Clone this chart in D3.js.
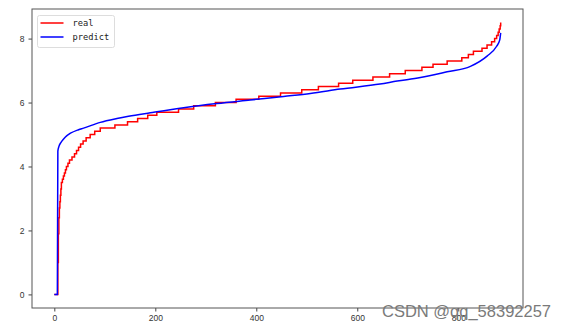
<!DOCTYPE html>
<html>
<head>
<meta charset="utf-8">
<script src="https://cdn.jsdelivr.net/npm/d3@7"></script>
<style>
  body { margin: 0; background: #fff; }
  .tick text { font-family: "Liberation Sans", Arial, sans-serif; font-size: 8.5px; fill: #333; }
  .tick line { stroke: #444; }
</style>
</head>
<body>
<svg id="chart"></svg>
<script>
// real (sorted, stepwise): index where each level starts
const realIndex = [0, 7, 8, 9, 10, 11, 12, 13, 14, 16, 18, 20, 22, 24, 27, 30, 35, 40, 44, 48, 52, 57, 63, 71, 80, 91, 120, 145, 165, 185, 203, 246, 276, 319, 360, 405, 448, 490, 523, 563, 591, 631, 664, 695, 728, 750, 778, 807, 820, 830, 847, 857, 866, 872, 876, 879, 881, 883, 884];
const realValue = [0, 1.0, 1.9, 2.4, 2.7, 2.9, 3.1, 3.3, 3.5, 3.6, 3.7, 3.8, 3.9, 4.0, 4.1, 4.2, 4.3, 4.4, 4.5, 4.6, 4.7, 4.8, 4.9, 5.0, 5.1, 5.2, 5.3, 5.4, 5.5, 5.6, 5.7, 5.8, 5.9, 6.0, 6.1, 6.2, 6.3, 6.4, 6.5, 6.6, 6.7, 6.8, 6.9, 7.0, 7.1, 7.2, 7.3, 7.4, 7.5, 7.6, 7.7, 7.8, 7.9, 8.0, 8.1, 8.2, 8.3, 8.4, 8.5];

// predict: points
const predIndex = [0, 6, 7, 9, 13, 18, 22, 32, 48, 58, 91, 124, 147, 190, 256, 322, 388, 454, 507, 566, 645, 679, 725, 778, 824, 857, 876, 882, 884];
const predValue = [0, 0, 4.48, 4.62, 4.75, 4.85, 4.92, 5.04, 5.15, 5.2, 5.38, 5.5, 5.57, 5.68, 5.84, 5.97, 6.08, 6.19, 6.28, 6.42, 6.58, 6.67, 6.78, 6.96, 7.13, 7.45, 7.76, 7.95, 8.18];

const xTicks = [0, 200, 400, 600, 800];
const yTicks = [0, 2, 4, 6, 8];
const seriesNames = ["real", "predict"];
const seriesColors = ["#ff0000", "#0000ff"];

const width = 567, height = 329;
const margin = {top: 9, right: 44, bottom: 21, left: 32};

const svg = d3.select('#chart')
    .attr('width', width)
    .attr('height', height);

const n = realIndex[realIndex.length - 1];
const yMax = d3.max(realValue.concat(predValue));
const xPad = n * 0.05, yPad = yMax * 0.05;

const xScale = d3.scaleLinear()
    .domain([-xPad, n + xPad])
    .range([margin.left, width - margin.right]);
const yScale = d3.scaleLinear()
    .domain([-yPad, yMax + yPad])
    .range([height - margin.bottom, margin.top]);

// axes
svg.append('g')
    .attr('transform', `translate(0, ${height - margin.bottom})`)
    .call(d3.axisBottom(xScale).tickValues(xTicks).tickSize(3.5).tickPadding(3))
    .call(g => g.select('.domain').remove());
svg.append('g')
    .attr('transform', `translate(${margin.left}, 0)`)
    .call(d3.axisLeft(yScale).tickValues(yTicks).tickSize(3.5).tickPadding(4))
    .call(g => g.select('.domain').remove());

const realData = realIndex.map((d, i) => [d, realValue[i]]);
const predData = predIndex.map((d, i) => [d, predValue[i]]);

const realLine = d3.line()
    .x(d => xScale(d[0]))
    .y(d => yScale(d[1]))
    .curve(d3.curveStepAfter);
const predLine = d3.line()
    .x(d => xScale(d[0]))
    .y(d => yScale(d[1]))
    .curve(d3.curveMonotoneX);

svg.append('path')
    .datum(realData)
    .attr('d', realLine)
    .attr('fill', 'none')
    .attr('stroke', seriesColors[0])
    .attr('stroke-width', 1.5);
svg.append('path')
    .datum(predData)
    .attr('d', predLine)
    .attr('fill', 'none')
    .attr('stroke', seriesColors[1])
    .attr('stroke-width', 1.5);

// frame
svg.append('rect')
    .attr('x', margin.left)
    .attr('y', margin.top)
    .attr('width', width - margin.left - margin.right)
    .attr('height', height - margin.top - margin.bottom)
    .attr('fill', 'none')
    .attr('stroke', '#555')
    .attr('stroke-width', 1);

// legend
const legend = svg.append('g').attr('transform', 'translate(37.5, 15.5)');
legend.append('rect')
    .attr('width', 77)
    .attr('height', 32)
    .attr('rx', 2)
    .attr('fill', '#fff')
    .attr('fill-opacity', 0.8)
    .attr('stroke', '#ddd');
seriesNames.forEach((name, i) => {
    legend.append('line')
        .attr('x1', 3).attr('x2', 26)
        .attr('y1', 7.5 + i * 14).attr('y2', 7.5 + i * 14)
        .attr('stroke', seriesColors[i])
        .attr('stroke-width', 1.5);
    legend.append('text')
        .attr('x', 35)
        .attr('y', 7.5 + i * 14)
        .attr('dominant-baseline', 'central')
        .style('font-family', '"DejaVu Sans Mono", monospace')
        .style('font-size', '8.7px')
        .style('fill', '#222')
        .text(name);
});

// watermark
svg.append('text')
    .attr('x', 382)
    .attr('y', 316.5)
    .style('font-family', '"Liberation Sans", Arial, sans-serif')
    .style('font-size', '16.5px')
    .style('fill', '#7a7a7a')
    .text('CSDN @qq_58392257');
</script>
</body>
</html>
